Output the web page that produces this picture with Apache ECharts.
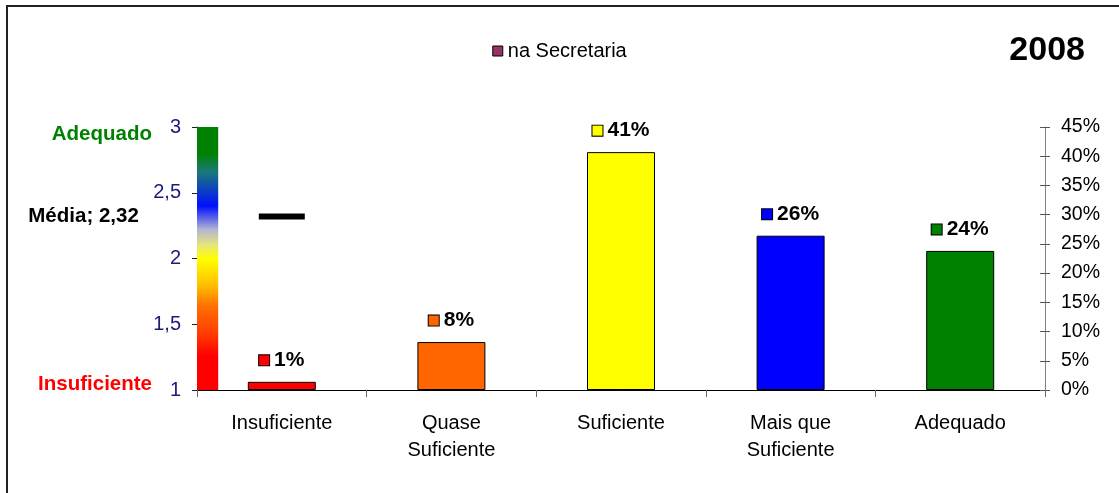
<!DOCTYPE html>
<html>
<head>
<meta charset="utf-8">
<script src="https://cdn.jsdelivr.net/npm/echarts@6/dist/echarts.min.js"></script>
<style>
html,body{margin:0;padding:0;background:#fff;}
#c{width:1119px;height:493px;}
</style>
</head>
<body>
<div id="c"></div>
<script>
const categories = ['Insuficiente', 'Quase\nSuficiente', 'Suficiente', 'Mais que\nSuficiente', 'Adequado'];
const percentValues = [1.4, 8.2, 40.7, 26.4, 23.8];
const barColors = ['#ff0000', '#ff6600', '#ffff00', '#0000ff', '#008000'];
const mediaValue = 2.32;
const leftAxisRange = [1, 3];
const leftScaleTexts = [{ value: 3, text: 'Adequado', color: '#008000' }, { value: 1, text: 'Insuficiente', color: '#ff0000' }];
const seriesName = 'na Secretaria';
const yearTitle = '2008';

const FONT = '"Liberation Sans", Arial, sans-serif';
const chart = echarts.init(document.getElementById('c'), null, { renderer: 'canvas' });

const rich = {
  t: { fontWeight: 'bold', fontSize: 21, color: '#000', fontFamily: FONT },
  g: { width: 5, height: 10 }
};
barColors.forEach((c, i) => {
  rich['s' + i] = { width: 10, height: 10, backgroundColor: c, borderColor: '#000', borderWidth: 1 };
});

const option = {
  animation: false,
  textStyle: { fontFamily: FONT },
  title: {
    text: yearTitle, right: 29, top: 29,
    textStyle: { fontSize: 34, fontWeight: 'bold', color: '#000', fontFamily: FONT }
  },
  legend: {
    data: [{ name: seriesName, itemStyle: { color: '#993366', borderColor: '#000', borderWidth: 1 } }],
    top: 36, left: 'center', icon: 'rect', itemWidth: 10, itemHeight: 10, itemGap: 6,
    textStyle: { fontSize: 20, color: '#000', fontFamily: FONT }
  },
  grid: { left: 197, right: 74, top: 127, bottom: 103, containLabel: false },
  xAxis: {
    type: 'category', data: categories,
    axisLine: { lineStyle: { color: '#000', width: 1 } },
    axisTick: { show: true, length: 7, lineStyle: { color: '#666' } },
    axisLabel: { fontSize: 20, color: '#000', lineHeight: 27, margin: 20, fontFamily: FONT, interval: 0 }
  },
  yAxis: [
    {
      type: 'value', min: leftAxisRange[0], max: leftAxisRange[1], interval: 0.5, position: 'left',
      splitLine: { show: false },
      axisLine: { show: true, lineStyle: { color: '#222' } },
      axisTick: { show: true, length: 5, lineStyle: { color: '#222' } },
      axisLabel: { fontSize: 20, color: '#1c1c78', margin: 16, fontFamily: FONT,
        formatter: v => String(v).replace('.', ',') }
    },
    {
      type: 'value', min: 0, max: 45, interval: 5, position: 'right',
      splitLine: { show: false },
      axisLine: { show: true, lineStyle: { color: '#808080' } },
      axisTick: { show: true, length: 5, lineStyle: { color: '#555' } },
      axisLabel: { fontSize: 19.5, color: '#000', margin: 16, fontFamily: FONT, formatter: '{value}%' }
    },
    {
      type: 'value', min: 0, max: 45, interval: 5, position: 'right',
      splitLine: { show: false },
      axisLine: { show: false },
      axisTick: { show: true, inside: true, length: 5, lineStyle: { color: '#555' } },
      axisLabel: { show: false }
    }
  ],
  series: [
    {
      name: 'escala', type: 'custom', yAxisIndex: 0, silent: true, z: 1,
      data: [[0, leftAxisRange[0], leftAxisRange[1]]],
      renderItem: function (params, api) {
        const bottom = api.coord([api.value(0), api.value(1)]);
        const top = api.coord([api.value(0), api.value(2)]);
        const bw = api.size([1, 0])[0];
        const x = bottom[0] - bw / 2;
        return {
          type: 'rect',
          shape: { x: x, y: top[1], width: bw * 0.125, height: bottom[1] - top[1] },
          style: {
            fill: new echarts.graphic.LinearGradient(0, 0, 0, 1, [
              { offset: 0, color: '#008000' },
              { offset: 0.1, color: '#008000' },
              { offset: 0.17, color: '#1a7a78' },
              { offset: 0.3, color: '#0010ff' },
              { offset: 0.39, color: '#b4b4d2' },
              { offset: 0.45, color: '#e6e67a' },
              { offset: 0.5, color: '#ffff00' },
              { offset: 0.6, color: '#ffc000' },
              { offset: 0.68, color: '#ff7000' },
              { offset: 0.78, color: '#ff4000' },
              { offset: 0.87, color: '#ff0000' },
              { offset: 1, color: '#ff0000' }
            ])
          }
        };
      }
    },
    {
      name: seriesName, type: 'bar', yAxisIndex: 1, barWidth: 68, z: 3,
      itemStyle: { color: '#993366', borderColor: '#000', borderWidth: 1 },
      data: percentValues.map((v, i) => ({ value: v, itemStyle: { color: barColors[i], borderColor: '#000', borderWidth: 1 } })),
      label: {
        show: true, position: 'top', distance: 11, rich: rich,
        formatter: p => '{s' + p.dataIndex + '|}{g|}{t|' + Math.round(p.value) + '%}'
      }
    },
    {
      name: 'Média', type: 'scatter', yAxisIndex: 0, z: 4,
      symbol: 'rect', symbolSize: [46, 6],
      itemStyle: { color: '#000', opacity: 1 },
      data: [[0, mediaValue]],
      label: {
        show: true, position: 'left', distance: 120,
        fontSize: 20.5, fontWeight: 'bold', color: '#000', fontFamily: FONT,
        formatter: p => 'Média; ' + String(p.value[1]).replace('.', ',')
      }
    }
  ]
};
chart.setOption(option);

const gElems = [
  {
    type: 'rect', z: 100, silent: true,
    shape: { x: 7, y: 6, width: 1300, height: 700 },
    style: { fill: 'none', stroke: '#222', lineWidth: 2 }
  }
];
leftScaleTexts.forEach(t => {
  const p = chart.convertToPixel({ yAxisIndex: 0 }, t.value);
  gElems.push({
    type: 'text', z: 50, silent: true,
    x: 152, y: p + (t.value === 3 ? 7 : -6),
    style: { text: t.text, fill: t.color, fontSize: 20.5, fontWeight: 'bold', fontFamily: FONT,
      align: 'right', verticalAlign: 'middle' }
  });
});
chart.setOption({ graphic: gElems });
</script>
</body>
</html>
